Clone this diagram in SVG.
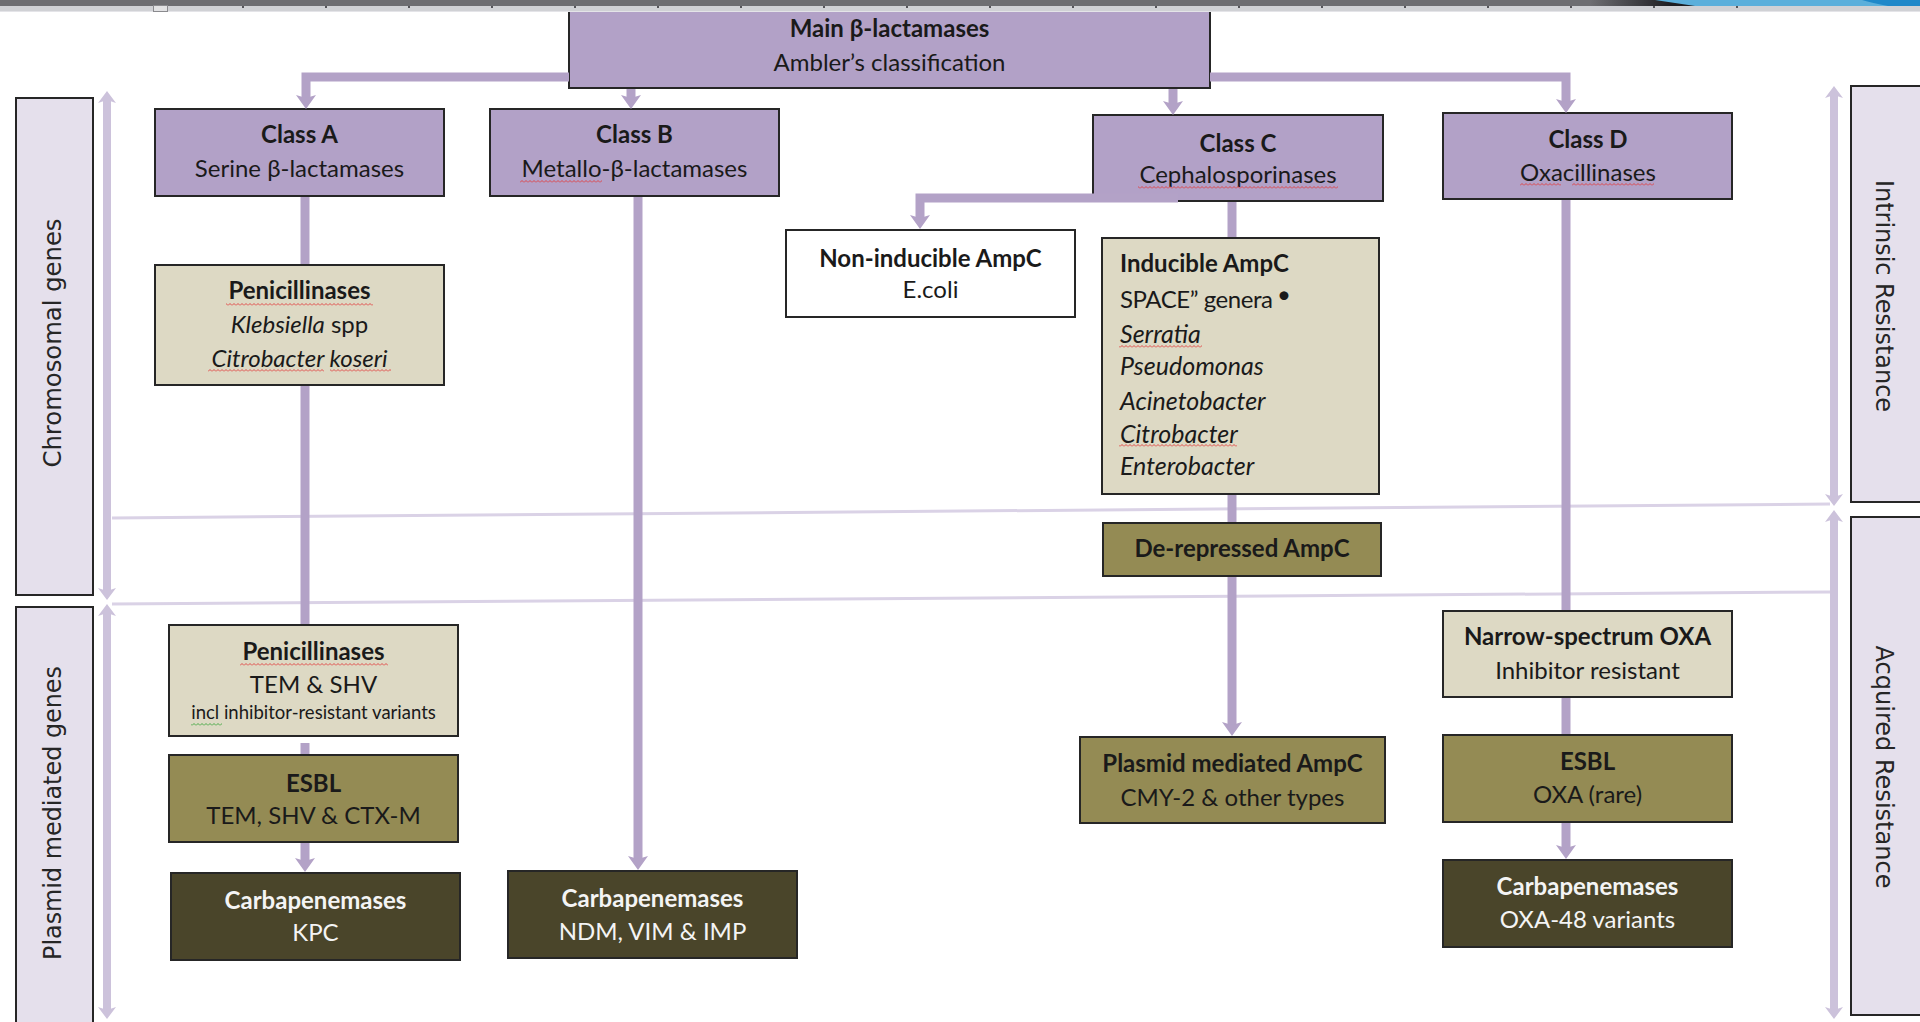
<svg xmlns="http://www.w3.org/2000/svg" width="1920" height="1022" viewBox="0 0 1920 1022">
<defs>
<style>
.box{stroke:#262626;stroke-width:2}
.cls{fill:#b2a1c7}
.bei{fill:#ddd9c4}
.oli{fill:#948b54}
.drk{fill:#4a452a}
.wht{fill:#ffffff}
.side{fill:#e5e0ec}
text{font-family:Lato,"Liberation Sans",sans-serif;font-size:24px;fill:#1a1a1a}
.t{text-anchor:middle}
.b{font-weight:bold}
.i{font-style:italic}
.ib{font-style:italic;font-size:25px}
.w{fill:#f4f4f4}
.sm{font-size:18.5px}
.sl{font-family:"DejaVu Sans",sans-serif;font-size:25px;fill:#262626;text-anchor:middle}
.con{fill:none;stroke:#b3a2c7;stroke-width:9}
.sar{fill:none;stroke:#ccc2db;stroke-width:8}
.hl{fill:none;stroke:#dad2e6;stroke-width:3}
.wr{fill:url(#wavyR)}
.wg{fill:url(#wavyG)}
</style>
<marker id="ah" markerUnits="userSpaceOnUse" viewBox="0 0 14 20" markerWidth="14" markerHeight="20" refX="4" refY="10" orient="auto">
<path d="M0,0 L14,10 L0,20 L3,10 Z" fill="#b3a2c7"/>
</marker>
<marker id="sh" markerUnits="userSpaceOnUse" viewBox="0 0 12 18" markerWidth="12" markerHeight="18" refX="4" refY="9" orient="auto-start-reverse">
<path d="M0,0 L12,9 L0,18 L3,9 Z" fill="#ccc2db"/>
</marker>
<pattern id="wavyR" width="4" height="3" patternUnits="userSpaceOnUse">
<polyline points="0,2.5 2,0.5 4,2.5" fill="none" stroke="#e23b3b" stroke-width="0.9"/>
</pattern>
<pattern id="wavyG" width="4" height="3" patternUnits="userSpaceOnUse">
<polyline points="0,2.5 2,0.5 4,2.5" fill="none" stroke="#3aa53a" stroke-width="0.9"/>
</pattern>
<linearGradient id="swg" x1="0" x2="1" y1="0" y2="0">
<stop offset="0" stop-color="#6e6e72"/>
<stop offset="0.7" stop-color="#1e1e22"/>
<stop offset="1" stop-color="#1e1e22"/>
</linearGradient>
</defs>
<rect x="0" y="0" width="1920" height="1022" fill="#ffffff"/>

<g id="guides">
<path class="hl" d="M112 518 L1830 504"/>
<path class="hl" d="M112 604 L1830 592"/>
</g>

<g id="side-chromosomal">
<rect class="box side" x="16" y="98" width="77" height="497"/>
<text class="sl" transform="translate(61,343) rotate(-90)" textLength="249" lengthAdjust="spacingAndGlyphs">Chromosomal genes</text>
</g>
<g id="side-plasmid">
<rect class="box side" x="16" y="607" width="77" height="425"/>
<text class="sl" transform="translate(61,813) rotate(-90)" textLength="294" lengthAdjust="spacingAndGlyphs">Plasmid mediated genes</text>
</g>
<g id="side-intrinsic">
<rect class="box side" x="1851" y="86" width="80" height="416"/>
<text class="sl" transform="translate(1876,296) rotate(90)" textLength="232" lengthAdjust="spacingAndGlyphs">Intrinsic Resistance</text>
</g>
<g id="side-acquired">
<rect class="box side" x="1851" y="517" width="80" height="498"/>
<text class="sl" transform="translate(1876,767) rotate(90)" textLength="243" lengthAdjust="spacingAndGlyphs">Acquired Resistance</text>
</g>

<g id="main">
<rect class="box cls" x="569" y="4" width="641" height="84"/>
<text class="t b" x="889.5" y="37">Main β-lactamases</text>
<text class="t" x="889.5" y="71">Ambler’s classification</text>
</g>
<g id="classA">
<rect class="box cls" x="155" y="109" width="289" height="87"/>
<text class="t b" x="299.5" y="143">Class A</text>
<text class="t" x="299.5" y="177">Serine β-lactamases</text>
</g>
<g id="classB">
<rect class="box cls" x="490" y="109" width="289" height="87"/>
<text class="t b" x="634.5" y="143">Class B</text>
<text class="t" x="634.5" y="177">Metallo-β-lactamases</text>
<rect class="wr" x="520" y="180" width="82" height="3"/>
</g>
<g id="classC">
<rect class="box cls" x="1093" y="115" width="290" height="86"/>
<text class="t b" x="1238" y="152">Class C</text>
<text class="t" x="1238" y="183">Cephalosporinases</text>
<rect class="wr" x="1138" y="186" width="200" height="3"/>
</g>
<g id="classD">
<rect class="box cls" x="1443" y="113" width="289" height="86"/>
<text class="t b" x="1588" y="148">Class D</text>
<text class="t" x="1588" y="181">Oxacillinases</text>
<rect class="wr" x="1520" y="183" width="41" height="3"/>
<rect class="wr" x="1572" y="183" width="82" height="3"/>
</g>
<g id="penicillinasesChrom">
<rect class="box bei" x="155" y="265" width="289" height="120"/>
<text class="t b" x="299.5" y="299">Penicillinases</text>
<rect class="wr" x="226" y="303" width="147" height="3"/>
<text class="t" x="299.5" y="333"><tspan class="i">Klebsiella</tspan> spp</text>
<text class="t i" x="299.5" y="367">Citrobacter koseri</text>
<rect class="wr" x="208" y="369" width="116" height="3"/>
<rect class="wr" x="330" y="369" width="61" height="3"/>
</g>
<g id="nonInducible">
<rect class="box wht" x="786" y="230" width="289" height="87"/>
<text class="t b" x="930.5" y="267">Non-inducible AmpC</text>
<text class="t" x="930.5" y="298">E.coli</text>
</g>
<g id="inducible">
<rect class="box bei" x="1102" y="238" width="277" height="256"/>
<text class="b" x="1120" y="272">Inducible AmpC</text>
<text x="1120" y="308" textLength="153">SPACE” genera</text>
<text x="1277" y="303" font-size="22">•</text>
<text class="ib" x="1120" y="343">Serratia</text>
<rect class="wr" x="1119" y="345" width="83" height="3"/>
<text class="ib" x="1120" y="375">Pseudomonas</text>
<text class="ib" x="1120" y="410">Acinetobacter</text>
<text class="ib" x="1120" y="443">Citrobacter</text>
<rect class="wr" x="1119" y="444" width="118" height="3"/>
<text class="ib" x="1120" y="475">Enterobacter</text>
</g>
<g id="derepressed">
<rect class="box oli" x="1103" y="523" width="278" height="53"/>
<text class="t b" x="1242" y="557">De-repressed AmpC</text>
</g>
<g id="penicillinasesPlasmid">
<rect class="box bei" x="169" y="625" width="289" height="111"/>
<text class="t b" x="313.5" y="660">Penicillinases</text>
<rect class="wr" x="240" y="663" width="148" height="3"/>
<text class="t" x="313.5" y="693">TEM &amp; SHV</text>
<text class="t sm" x="313.5" y="719">incl inhibitor-resistant variants</text>
<rect class="wg" x="191" y="723" width="31" height="3"/>
</g>
<g id="esblA">
<rect class="box oli" x="169" y="755" width="289" height="87"/>
<text class="t b" x="313.5" y="792">ESBL</text>
<text class="t" x="313.5" y="824">TEM, SHV &amp; CTX-M</text>
</g>
<g id="carbaKPC">
<rect class="box drk" x="171" y="873" width="289" height="87"/>
<text class="t b w" x="315.5" y="909">Carbapenemases</text>
<text class="t w" x="315.5" y="941">KPC</text>
</g>
<g id="carbaNDM">
<rect class="box drk" x="508" y="871" width="289" height="87"/>
<text class="t b w" x="652.5" y="907">Carbapenemases</text>
<text class="t w" x="652.5" y="940">NDM, VIM &amp; IMP</text>
</g>
<g id="plasmidAmpC">
<rect class="box oli" x="1080" y="737" width="305" height="86"/>
<text class="t b" x="1232.5" y="772">Plasmid mediated AmpC</text>
<text class="t" x="1232.5" y="806">CMY-2 &amp; other types</text>
</g>
<g id="narrowOXA">
<rect class="box bei" x="1443" y="611" width="289" height="86"/>
<text class="t b" x="1587.5" y="645">Narrow-spectrum OXA</text>
<text class="t" x="1587.5" y="679">Inhibitor resistant</text>
</g>
<g id="esblD">
<rect class="box oli" x="1443" y="735" width="289" height="87"/>
<text class="t b" x="1587.5" y="770">ESBL</text>
<text class="t" x="1587.5" y="803">OXA (rare)</text>
</g>
<g id="carbaOXA48">
<rect class="box drk" x="1443" y="860" width="289" height="87"/>
<text class="t b w" x="1587.5" y="895">Carbapenemases</text>
<text class="t w" x="1587.5" y="928">OXA-48 variants</text>
</g>

<g id="connectors">
<path class="con" d="M569 77 H306 V99" marker-end="url(#ah)"/>
<path class="con" d="M631 89 V99" marker-end="url(#ah)"/>
<path class="con" d="M1173 89 V105" marker-end="url(#ah)"/>
<path class="con" d="M1210 77 H1566 V103" marker-end="url(#ah)"/>
<path class="con" d="M305 197 V264"/>
<path class="con" d="M305 386 V624"/>
<path class="con" d="M305 743 V754"/>
<path class="con" d="M305 843 V862" marker-end="url(#ah)"/>
<path class="con" d="M638 197 V860" marker-end="url(#ah)"/>
<path class="con" d="M1178 198 H920 V219" marker-end="url(#ah)"/>
<path class="con" d="M1232 202 V237"/>
<path class="con" d="M1232 495 V522"/>
<path class="con" d="M1232 577 V726" marker-end="url(#ah)"/>
<path class="con" d="M1566 200 V610"/>
<path class="con" d="M1566 698 V734"/>
<path class="con" d="M1566 823 V849" marker-end="url(#ah)"/>
<path class="sar" d="M107 99 V592" marker-start="url(#sh)" marker-end="url(#sh)"/>
<path class="sar" d="M107 612 V1011" marker-start="url(#sh)" marker-end="url(#sh)"/>
<path class="sar" d="M1834 94 V498" marker-start="url(#sh)" marker-end="url(#sh)"/>
<path class="sar" d="M1834 518 V1011" marker-start="url(#sh)" marker-end="url(#sh)"/>
</g>

<g id="chrome">
<rect x="0" y="0" width="1920" height="6" fill="#6e6e72"/>
<path d="M1590 0 H1700 L1705 6 H1590 Z" fill="url(#swg)"/>
<path d="M1655 0 H1920 V6 H1695 Z" fill="#5bafdb"/>
<path d="M1862 0 H1920 V6 H1888 Q1872 3 1862 0 Z" fill="#1f88c9"/>
<rect x="0" y="6" width="1920" height="5" fill="#d0d1d5"/>
<rect x="0" y="11" width="1920" height="1" fill="#e4e4e8"/>
<rect x="153.5" y="5.5" width="14" height="6" fill="#e2e2e4" stroke="#8a8a8e" stroke-width="1"/>
<g fill="#55555a">
<rect x="242" y="6" width="2" height="2"/><rect x="325" y="6" width="2" height="2"/><rect x="408" y="6" width="2" height="2"/><rect x="491" y="6" width="2" height="2"/><rect x="574" y="6" width="2" height="2"/><rect x="657" y="6" width="2" height="2"/><rect x="740" y="6" width="2" height="2"/><rect x="823" y="6" width="2" height="2"/><rect x="906" y="6" width="2" height="2"/><rect x="989" y="6" width="2" height="2"/><rect x="1072" y="6" width="2" height="2"/><rect x="1155" y="6" width="2" height="2"/><rect x="1238" y="6" width="2" height="2"/><rect x="1321" y="6" width="2" height="2"/><rect x="1404" y="6" width="2" height="2"/><rect x="1487" y="6" width="2" height="2"/><rect x="1570" y="6" width="2" height="2"/><rect x="1653" y="6" width="2" height="2"/><rect x="1736" y="6" width="2" height="2"/>
</g>
</g>
</svg>
